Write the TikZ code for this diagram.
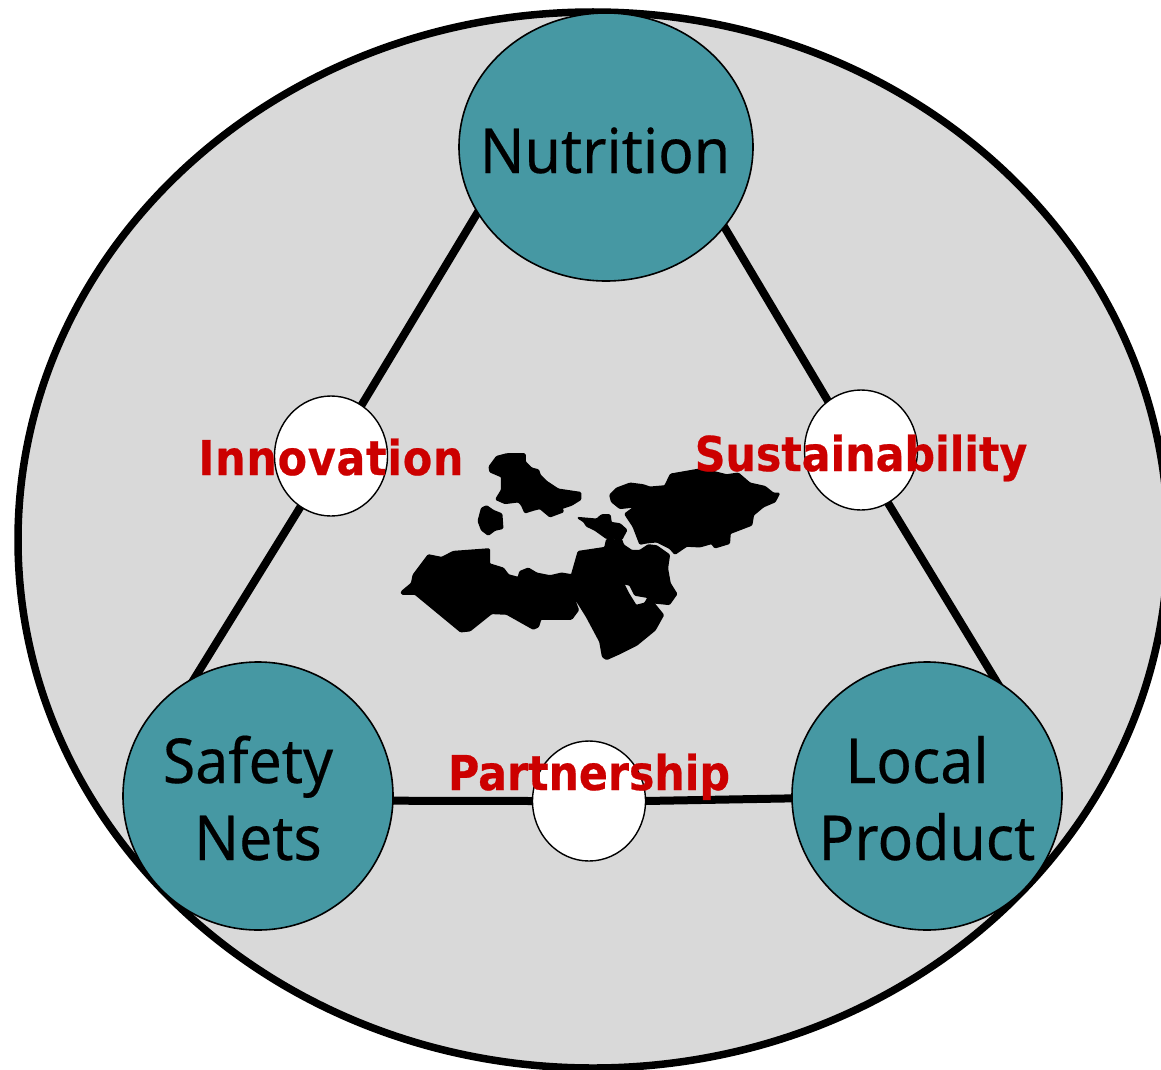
\documentclass[tikz,border=0pt]{standalone}
\usepackage{fontspec}
\usetikzlibrary{shapes.geometric,backgrounds}
\setmainfont[FakeStretch=0.95,FakeBold=0.3]{Noto Sans}
\newfontfamily\redfont[FakeStretch=0.89,BoldFeatures={FakeStretch=0.89,FakeBold=0.5}]{DejaVu Sans}
\definecolor{teal1}{HTML}{4698A3}
\definecolor{gray1}{HTML}{D9D9D9}
\definecolor{red1}{HTML}{CC0000}
\tikzset{
  outerring/.style={ellipse,draw=black,fill=gray1,line width=7.5pt,minimum width=1150pt,minimum height=1056pt,inner sep=0pt,outer sep=0pt},
  bigblob/.style={ellipse,draw=black,fill=teal1,line width=1.6pt,inner sep=0pt,outer sep=0pt},
  smallblob/.style={ellipse,draw=black,fill=white,line width=1.4pt,inner sep=0pt,outer sep=0pt,minimum width=113pt,minimum height=120pt},
  linkline/.style={draw=black,line width=8pt,shorten >=-8pt,shorten <=-8pt},
  blacktext/.style={anchor=base,text=black,inner sep=0pt,font=\fontsize{62}{62}\selectfont},
  redtext/.style={anchor=base,text=red1,inner sep=0pt,font=\redfont\bfseries\fontsize{48}{48}\selectfont},
  landmass/.style={fill=black,draw=black,line width=1.6pt,line join=round,rounded corners=1pt,even odd rule}
}
\begin{document}
\begin{tikzpicture}[x=1pt,y=-1pt]
\useasboundingbox (0,0) rectangle (1161,1070);
\clip (0,0) rectangle (1161,1070);
\node[bigblob,minimum width=294pt,minimum height=268pt] (nutr) at (606,147) {};
\node[bigblob,minimum width=270pt,minimum height=268pt] (safe) at (258,796) {};
\node[bigblob,minimum width=270pt,minimum height=268pt] (local) at (927,796) {};
\node[smallblob] (inn) at (331,456) {};
\node[smallblob] (sus) at (861,450) {};
\node[smallblob] (par) at (589,801) {};
\begin{scope}[on background layer]
\node[outerring] (ring) at (593,540) {};
\draw[linkline] (nutr.207) -- (inn.59);
\draw[linkline] (inn.239) -- (safe.118);
\draw[linkline] (nutr.-34.5) -- (sus.124);
\draw[linkline] (sus.-63) -- (local.59);
\draw[linkline] (safe.-2) -- (par.west);
\draw[linkline] (par.east) -- (local.181);
\end{scope}
\begin{scope}[shift={(390,440)},x=0.3333pt,y=-0.3333pt]
\path[landmass] (298,80)--(320,50)--(350,42)--(405,42)--(405,65)--(425,85)--(445,90)--(450,105)--(470,125)--(505,148)--(572,158)--(572,178)--(545,195)--(515,205)--(520,215)--(480,230)--(450,205)--(430,210)--(405,218)--(395,195)--(385,185)--(345,190)--(318,178)--(335,150)--(335,110)--(300,95)--cycle;
\path[landmass] (265,243)--(275,205)--(290,198)--(310,212)--(335,222)--(338,265)--(315,270)--(295,285)--(275,270)--cycle;
\path[landmass] (35,455)--(65,430)--(70,405)--(115,345)--(155,353)--(190,335)--(298,327)--(298,372)--(340,385)--(355,405)--(385,413)--(390,395)--(415,385)--(440,400)--(480,408)--(515,400)--(545,405)--(565,335)--(645,323)--(650,300)--(665,292)--(675,303)--(695,300)--(700,315)--(725,332)--(750,332)--(775,315)--(800,318)--(838,345)--(832,385)--(840,430)--(860,462)--(838,493)--(790,488)--(820,525)--(795,570)--(740,615)--(690,640)--(650,658)--(638,650)--(630,605)--(590,530)--(545,458)--(565,510)--(545,537)--(452,537)--(445,560)--(430,567)--(350,522)--(305,520)--(240,572)--(212,575)--(75,462)--(35,462)--cycle
 (700,430)--(720,435)--(735,465)--(775,472)--(765,490)--(738,497)--(715,460)--cycle;
\path[landmass] (563,233)--(620,238)--(635,225)--(660,225)--(663,248)--(690,252)--(710,270)--(695,298)--(680,302)--(670,292)--(650,295)--(615,270)--(590,258)--(582,245)--cycle;
\path[landmass] (660,165)--(680,145)--(720,130)--(760,135)--(780,142)--(825,138)--(842,103)--(945,85)--(970,95)--(1010,105)--(1045,100)--(1080,130)--(1125,140)--(1150,160)--(1168,160)--(1155,185)--(1120,200)--(1090,225)--(1085,255)--(1020,280)--(1018,310)--(975,323)--(965,310)--(930,320)--(890,318)--(855,342)--(840,325)--(800,305)--(770,308)--(750,312)--(730,260)--(705,222)--(735,200)--(690,205)--(665,185)--cycle;
\end{scope}
\node[blacktext] (tnutr) at (605,173) {Nutrition};
\node[blacktext] (tsafe) at (248,783) {Safety};
\node[blacktext] (tnets) at (258,860) {Nets};
\node[blacktext] (tlocal) at (917,783) {Local};
\node[blacktext] (tprod) at (927,860) {Product};
\node[redtext] (tinn) at (331,475) {\addfontfeatures{LetterSpace=1.7}Innovation};
\node[redtext] (tsus) at (861,471) {Sustainability};
\node[redtext] (tpar) at (589,790) {Partnership};
\end{tikzpicture}
\end{document}
